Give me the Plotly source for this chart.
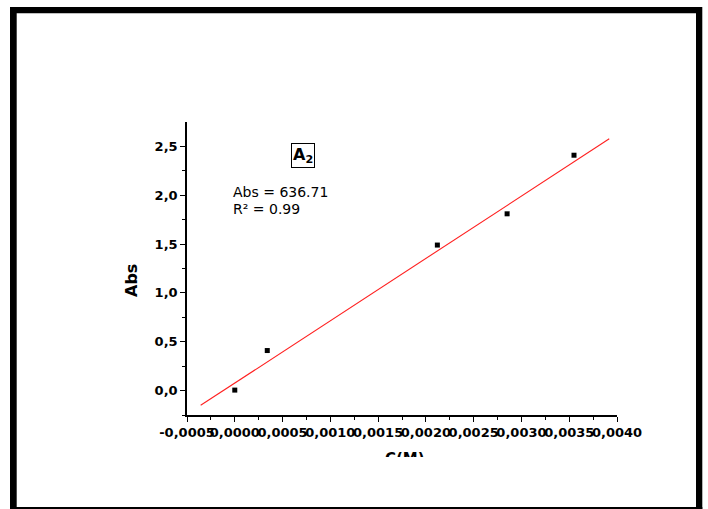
import plotly.graph_objects as go

# ---- data ----
conc = [0.0000, 0.00034, 0.00212, 0.00285, 0.00355]
absorb = [0.005, 0.41, 1.49, 1.81, 2.41]
fit_x = [-0.000357, 0.003919]
fit_y = [-0.151, 2.578]

x_tickvals = [-0.0005, 0.0000, 0.0005, 0.0010, 0.0015, 0.0020, 0.0025, 0.0030, 0.0035, 0.0040]
x_ticktext = ["-0,0005", "0,0000", "0,0005", "0,0010", "0,0015", "0,0020", "0,0025", "0,0030", "0,0035", "0,0040"]
x_minor = [-0.00025, 0.00025, 0.00075, 0.00125, 0.00175, 0.00225, 0.00275, 0.00325, 0.00375]
y_tickvals = [0.0, 0.5, 1.0, 1.5, 2.0, 2.5]
y_ticktext = ["0,0", "0,5", "1,0", "1,5", "2,0", "2,5"]
y_minor = [-0.25, 0.25, 0.75, 1.25, 1.75, 2.25]

W, H = 708, 509
L, R, T, B = 187, 617, 122, 415


def px(x):
    return (x - L) / (R - L)


def py(y):
    return (B - y) / (B - T)


fig = go.Figure()
fig.add_trace(go.Scatter(x=fit_x, y=fit_y, mode="lines",
                         line=dict(color="#ff2020", width=1.1), showlegend=False))
fig.add_trace(go.Scatter(x=conc, y=absorb, mode="markers",
                         marker=dict(symbol="square", size=5, color="black"),
                         showlegend=False))

tickfont = dict(family="DejaVu Sans", size=13, color="black", weight="bold")
fig.update_xaxes(range=[-0.0005, 0.0040], tickmode="array", tickvals=x_tickvals,
                 ticktext=x_ticktext, tickangle=0, ticks="outside", ticklen=5, tickwidth=1.2,
                 tickcolor="black", showline=True, linecolor="black", linewidth=1.5,
                 showgrid=False, zeroline=False, tickfont=tickfont,
                 minor=dict(tickvals=x_minor, ticks="outside", ticklen=3,
                            tickcolor="black", tickwidth=1, showgrid=False))
fig.update_yaxes(range=[-0.25, 2.75], tickmode="array", tickvals=y_tickvals,
                 ticktext=y_ticktext, ticks="outside", ticklen=5, tickwidth=1.2,
                 tickcolor="black", showline=True, linecolor="black", linewidth=1.5,
                 showgrid=False, zeroline=False, tickfont=tickfont,
                 minor=dict(tickvals=y_minor, ticks="outside", ticklen=3,
                            tickcolor="black", tickwidth=1, showgrid=False))

shapes = []
for (x0, y0, x1, y1) in [(10, 7, 702, 13.3), (10, 7, 16.7, 520), (696, 7, 702.3, 520), (10, 507, 702.3, 520)]:
    shapes.append(dict(type="rect", xref="paper", yref="paper",
                       x0=px(x0), x1=px(x1), y0=py(y0), y1=py(y1),
                       fillcolor="black", line=dict(width=0), layer="above"))

anns = [
    dict(text="<b>A<sub>2</sub></b>", x=px(303), y=py(155.5), xanchor="center", yanchor="middle",
         font=dict(family="DejaVu Sans", size=16, color="black"),
         bordercolor="black", borderwidth=1, borderpad=1),
    dict(text="Abs = 636.71", x=px(231), y=py(191.5), xanchor="left", yanchor="middle",
         font=dict(family="DejaVu Sans", size=14, color="black")),
    dict(text="R² = 0.99", x=px(231), y=py(208.5), xanchor="left", yanchor="middle",
         font=dict(family="DejaVu Sans", size=14, color="black")),
    dict(text="<b>Abs</b>", x=px(131), y=py(281), xanchor="center", yanchor="middle",
         textangle=-90, font=dict(family="DejaVu Sans", size=16, color="black")),
    dict(text="<b>C(M)</b>", x=px(405), y=py(449), xanchor="center", yanchor="top",
         height=7, valign="top", borderpad=0,
         font=dict(family="DejaVu Sans", size=15, color="black")),
]
for a in anns:
    a.setdefault("xref", "paper")
    a.setdefault("yref", "paper")
    a["showarrow"] = False

fig.update_layout(width=W, height=H, margin=dict(l=L, r=W - R, t=T, b=H - B),
                  paper_bgcolor="white", plot_bgcolor="white",
                  shapes=shapes, annotations=anns)

fig.write_html("out.html")
